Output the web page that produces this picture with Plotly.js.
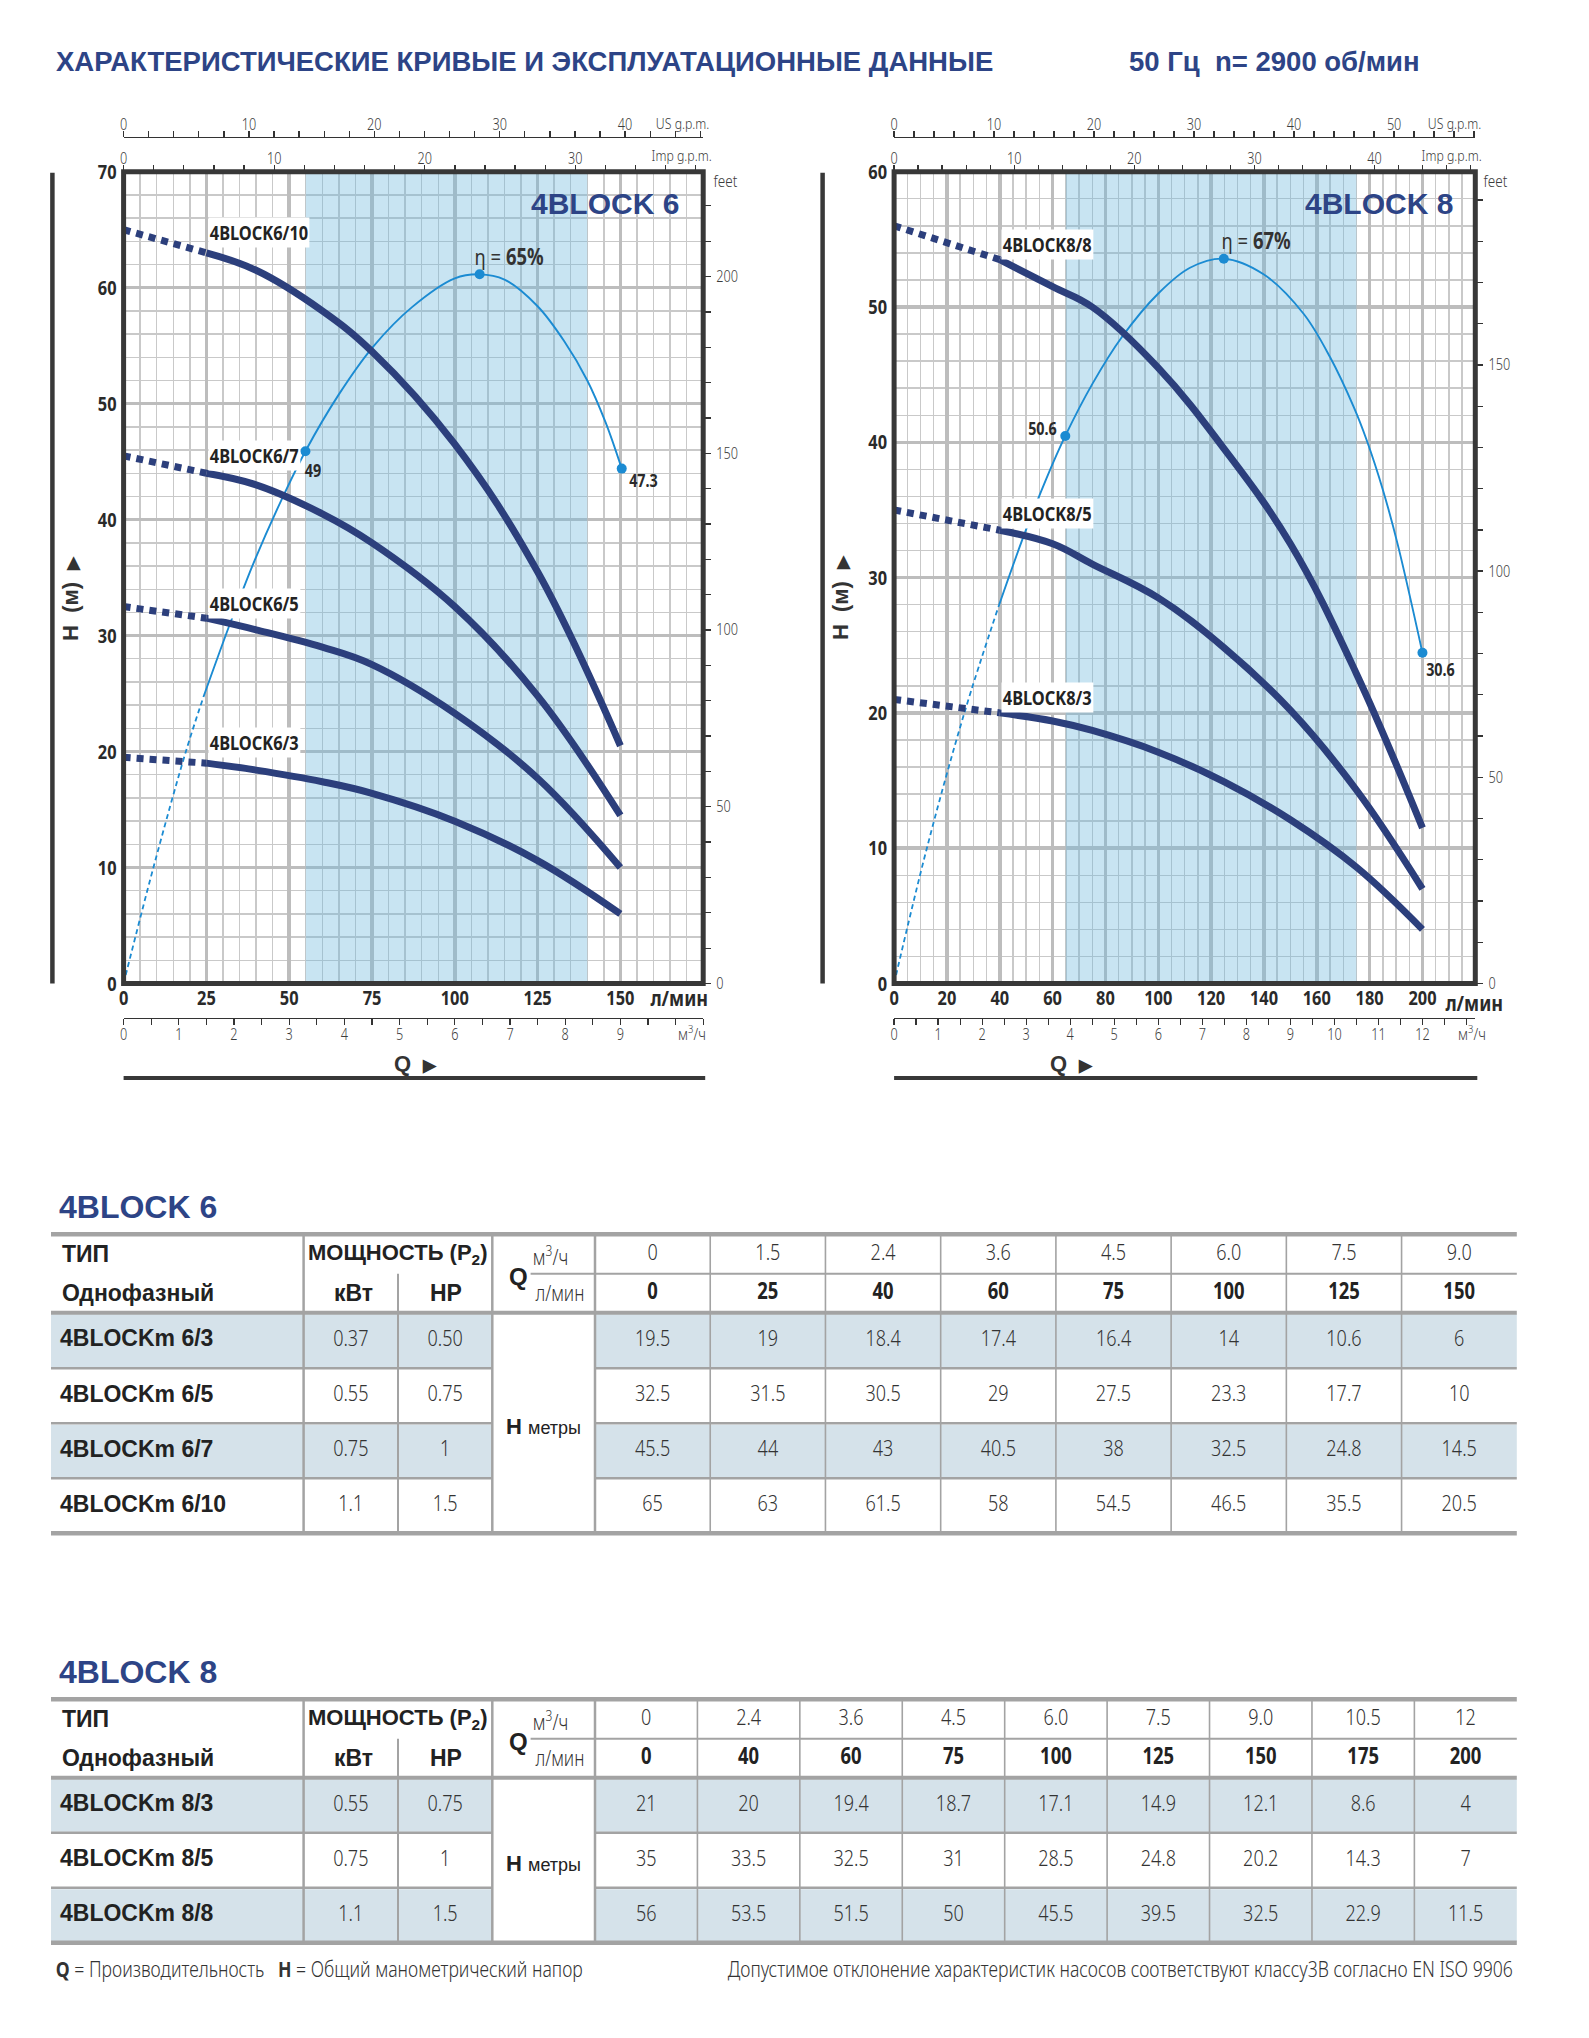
<!DOCTYPE html>
<html><head><meta charset="utf-8">
<script src="https://cdn.plot.ly/plotly-3.0.1.min.js"></script>
<style>
html,body{margin:0;padding:0;background:#fff;}#chart{width:1589px;height:2038px;}
</style>
</head><body><div id="chart"></div>
<script>
// ================= DATA =================
// 4BLOCK 6
const Q6 = [0, 25, 40, 60, 75, 100, 125, 150];
const M3H6 = ['0', '1.5', '2.4', '3.6', '4.5', '6.0', '7.5', '9.0'];
const H6_3 = [19.5, 19, 18.4, 17.4, 16.4, 14, 10.6, 6];
const H6_5 = [32.5, 31.5, 30.5, 29, 27.5, 23.3, 17.7, 10];
const H6_7 = [45.5, 44, 43, 40.5, 38, 32.5, 24.8, 14.5];
const H6_10 = [65, 63, 61.5, 58, 54.5, 46.5, 35.5, 20.5];
const MODELS6 = ['4BLOCKm 6/3', '4BLOCKm 6/5', '4BLOCKm 6/7', '4BLOCKm 6/10'];
const KW6 = ['0.37', '0.55', '0.75', '1.1'];
const HP6 = ['0.50', '0.75', '1', '1.5'];
const LABELS6 = ['4BLOCK6/3', '4BLOCK6/5', '4BLOCK6/7', '4BLOCK6/10'];
// efficiency curve 6 (drawn in head-axis units)
const EFF6_Q = [0, 9, 18.8, 24.1, 32.1, 39.6, 47.5, 54.9, 65, 75.3, 87, 100, 107.5, 115, 125, 133, 140, 145.5, 150.4];
const EFF6_H = [0, 10, 20, 24.7, 31, 36.5, 41.6, 45.9, 50.8, 54.9, 58.3, 60.8, 61.15, 60.7, 58.4, 55.4, 52, 48.4, 44.4];
const EFF6_PT_Q = [54.9, 107.5, 150.4];
const EFF6_PT_H = [45.9, 61.15, 44.4];
const EFF6_PT_TXT = ['<b>49</b>', 'η = <b>65%</b>', '<b>47.3</b>'];

// 4BLOCK 8
const Q8 = [0, 40, 60, 75, 100, 125, 150, 175, 200];
const M3H8 = ['0', '2.4', '3.6', '4.5', '6.0', '7.5', '9.0', '10.5', '12'];
const H8_3 = [21, 20, 19.4, 18.7, 17.1, 14.9, 12.1, 8.6, 4];
const H8_5 = [35, 33.5, 32.5, 31, 28.5, 24.8, 20.2, 14.3, 7];
const H8_8 = [56, 53.5, 51.5, 50, 45.5, 39.5, 32.5, 22.9, 11.5];
const MODELS8 = ['4BLOCKm 8/3', '4BLOCKm 8/5', '4BLOCKm 8/8'];
const KW8 = ['0.55', '0.75', '1.1'];
const HP8 = ['0.75', '1', '1.5'];
const LABELS8 = ['4BLOCK8/3', '4BLOCK8/5', '4BLOCK8/8'];
const EFF8_Q = [0, 12.4, 26.6, 39.6, 49.1, 57.6, 64.8, 75, 86.3, 100, 112, 124.8, 140, 155, 165, 174, 179, 185, 190.7, 200];
const EFF8_H = [0, 10, 20, 27.9, 33.1, 37.3, 40.47, 44.3, 47.8, 51, 52.9, 53.57, 52.4, 49.5, 46.3, 42.6, 40.1, 36.5, 32.4, 24.44];
const EFF8_PT_Q = [64.8, 124.8, 200];
const EFF8_PT_H = [40.47, 53.57, 24.44];
const EFF8_PT_TXT = ['<b>50.6</b>', 'η = <b>67%</b>', '<b>30.6</b>'];

// axis tick labels
const Q_TICKS6 = [0, 25, 50, 75, 100, 125, 150];
const Q_TICKS8 = [0, 20, 40, 60, 80, 100, 120, 140, 160, 180, 200];
const M3_TICKS6 = [0, 1, 2, 3, 4, 5, 6, 7, 8, 9];
const M3_TICKS8 = [0, 1, 2, 3, 4, 5, 6, 7, 8, 9, 10, 11, 12];

// ================= STYLE / LAYOUT =================
const W = 1589, H = 2038;
const px = x => x / W, py = y => 1 - y / H;
const CF = '"Noto Sans", sans-serif';            // drawn horizontally condensed after render
const RF = '"Liberation Sans", Arial, sans-serif';
const CONDENSE = 0.82;
const NAVY = '#2c3f7c', BLUE = '#1b8bd2', FRAME = '#383838', TBLUE = '#2d4486', TXT = '#2a2a2a', LT = '#3c3c3c';
const L_PER_IMP = 4.54609, L_PER_US = 3.78541, FT_PER_M = 3.28084, M3H_PER_LMIN = 0.06;

const traces = [], shapes = [], annotations = [];
const layout = {
  width: W, height: H, margin: {l: 0, r: 0, t: 0, b: 0},
  paper_bgcolor: '#ffffff', plot_bgcolor: 'rgba(0,0,0,0)', showlegend: false
};
const ak = id => (id[0] === 'x' ? 'xaxis' : 'yaxis') + id.slice(1);
const dummy = (xa, ya) => traces.push({x: [null], y: [null], xaxis: xa, yaxis: ya, mode: 'markers',
  marker: {opacity: 0}, hoverinfo: 'skip', showlegend: false});

function chart(c) {
  const dx = [px(c.x0), px(c.x1)], dy = [py(c.y1), py(c.y0)];
  const tickT = {family: CF, size: 15.5, color: LT, weight: 300};
  const tk = {ticks: 'outside', ticklen: 6, tickwidth: 1.3, tickcolor: '#333'};
  layout[ak(c.id.x)] = {
    domain: dx, range: [0, c.qmax], anchor: c.id.y, tickmode: 'array', tickvals: c.qTicks,
    ticks: '', showline: false, zeroline: false, showgrid: true, gridcolor: '#bdbdbd', gridwidth: 3.5,
    minor: {tickmode: 'linear', tick0: 0, dtick: c.qMinor, showgrid: true, gridcolor: '#c9c9c9', gridwidth: 1.4},
    tickfont: {family: CF, size: 20, color: TXT, weight: 700}, ticklabelstandoff: 1, fixedrange: true
  };
  layout[ak(c.id.y)] = {
    domain: dy, range: [0, c.hmax], anchor: c.id.x, dtick: 10, ticks: '', showline: false, zeroline: false,
    showgrid: true, gridcolor: '#bdbdbd', gridwidth: 3.5,
    minor: {dtick: 2, showgrid: true, gridcolor: '#c9c9c9', gridwidth: 1.4},
    tickfont: {family: CF, size: 20, color: TXT, weight: 700}, ticklabelstandoff: 6, fixedrange: true
  };
  layout[ak(c.id.ft)] = Object.assign({}, tk, {
    visible: true, overlaying: c.id.y, side: 'right', anchor: c.id.x, range: [0, c.hmax * FT_PER_M], dtick: 50,
    ticklen: 7, minor: Object.assign({}, tk, {dtick: 10, ticklen: 7}), showgrid: false, zeroline: false,
    showline: false, tickfont: tickT, ticklabelstandoff: 2, fixedrange: true
  });
  layout[ak(c.id.imp)] = Object.assign({}, tk, {
    visible: true, overlaying: c.id.x, side: 'top', anchor: c.id.y, range: [0, c.qmax / L_PER_IMP], dtick: 10,
    minor: Object.assign({}, tk, {dtick: 2}), showgrid: false, zeroline: false, showline: false,
    tickfont: tickT, ticklabelstandoff: -6, fixedrange: true
  });
  layout[ak(c.id.us)] = Object.assign({}, tk, {
    visible: true, overlaying: c.id.x, side: 'top', anchor: 'free', position: py(136.7),
    range: [0, c.qmax / L_PER_US], dtick: 10, showline: true, linecolor: '#333', linewidth: 1.5,
    minor: Object.assign({}, tk, {dtick: 2}), showgrid: false, zeroline: false, tickfont: tickT,
    ticklabelstandoff: -6, fixedrange: true
  });
  layout[ak(c.id.m3)] = Object.assign({}, tk, {
    visible: true, overlaying: c.id.x, side: 'bottom', anchor: 'free', position: py(1017.6),
    range: [0, c.qmax * M3H_PER_LMIN], tickmode: 'array', tickvals: c.m3Ticks, showline: true,
    linecolor: '#333', linewidth: 1.5,
    minor: Object.assign({}, tk, {tickmode: 'linear', tick0: 0, dtick: 0.5}), showgrid: false, zeroline: false,
    tickfont: tickT, ticklabelstandoff: -4, fixedrange: true
  });
  dummy(c.id.imp, c.id.y); dummy(c.id.us, c.id.y); dummy(c.id.m3, c.id.y); dummy(c.id.x, c.id.ft);

  // operating range shading
  shapes.push({type: 'rect', xref: c.id.x, yref: c.id.y, x0: c.shade[0], x1: c.shade[1], y0: 0, y1: c.hmax,
    fillcolor: 'rgba(110,185,222,0.38)', line: {width: 0}, layer: 'between'});
  // frame
  shapes.push({type: 'rect', xref: 'paper', yref: 'paper', x0: dx[0], x1: dx[1], y0: dy[0], y1: dy[1],
    line: {color: FRAME, width: 5}, layer: 'above'});
  // left thick line & bottom thick line
  shapes.push({type: 'line', xref: 'paper', yref: 'paper', x0: px(c.leftX), x1: px(c.leftX), y0: py(c.y1), y1: py(c.y0 + 1),
    line: {color: FRAME, width: 4.5}});
  shapes.push({type: 'line', xref: 'paper', yref: 'paper', x0: dx[0], x1: px(c.x1 + 2), y0: py(1077.9), y1: py(1077.9),
    line: {color: FRAME, width: 4}});

  // efficiency curve
  const e = c.eff;
  traces.push({x: e.q.slice(0, e.dashN), y: e.h.slice(0, e.dashN), xaxis: c.id.x, yaxis: c.id.y, mode: 'lines',
    line: {color: BLUE, width: 1.8, dash: '5px,3.5px', shape: 'spline'}, hoverinfo: 'skip'});
  traces.push({x: e.q.slice(e.dashN - 1), y: e.h.slice(e.dashN - 1), xaxis: c.id.x, yaxis: c.id.y, mode: 'lines',
    line: {color: BLUE, width: 1.9, shape: 'spline', smoothing: 1}, hoverinfo: 'skip'});

  // pump curves
  c.curves.forEach((h, i) => {
    traces.push({x: c.q.slice(0, 2), y: h.slice(0, 2), xaxis: c.id.x, yaxis: c.id.y, mode: 'lines',
      line: {color: NAVY, width: 7, dash: '7px,6px'}, hoverinfo: 'skip'});
    traces.push({x: c.q.slice(1), y: h.slice(1), xaxis: c.id.x, yaxis: c.id.y, mode: 'lines',
      line: {color: NAVY, width: 7, shape: 'spline', smoothing: 1.1}, hoverinfo: 'skip'});
    annotations.push({xref: c.id.x, yref: c.id.y, x: c.labelQ, y: c.labelH[i], xanchor: 'left', yanchor: 'middle',
      text: c.labels[i], showarrow: false, bgcolor: '#ffffff', borderpad: 1,
      font: {family: CF, size: 20, color: '#232323', weight: 700}});
  });

  // efficiency markers + labels
  traces.push({x: e.pq, y: e.ph, xaxis: c.id.x, yaxis: c.id.y, mode: 'markers',
    marker: {color: BLUE, size: 10}, hoverinfo: 'skip', cliponaxis: false});
  e.pq.forEach((q, i) => {
    const big = i === 1;
    annotations.push({xref: c.id.x, yref: c.id.y, x: q, y: e.ph[i], xshift: e.shift[i][0], yshift: e.shift[i][1],
      text: e.ptxt[i], showarrow: false, xanchor: 'center', yanchor: 'middle',
      font: big ? {family: CF, size: 22.5, color: '#333'} : {family: CF, size: 17.5, color: '#2a2a2a'}});
  });

  // texts around chart
  const T = (x, y, text, font, extra) => annotations.push(Object.assign({xref: 'paper', yref: 'paper',
    x: px(x), y: py(y), text, showarrow: false, xanchor: 'center', yanchor: 'middle', font}, extra || {}));
  T(c.brandX, 204, c.brand, {family: RF, size: 30, color: TBLUE, weight: 700}, {xanchor: 'right'});
  T(c.feet[0], c.feet[1], 'feet', {family: CF, size: 16.5, color: LT, weight: 300});
  T(c.imp[0], c.imp[1], 'Imp g.p.m.', {family: CF, size: 15, color: LT, weight: 300});
  T(c.us[0], c.us[1], 'US g.p.m.', {family: CF, size: 15, color: LT, weight: 300});
  T(c.lmin[0], c.lmin[1], 'л/мин', {family: CF, size: 22, color: TXT, weight: 700});
  T(c.m3[0], c.m3[1], 'м<sup>3</sup>/ч', {family: CF, size: 16.5, color: LT, weight: 300});
  T(c.leftX + 17.5, 598, 'H\u00A0\u00A0(м)\u00A0\u00A0<span style="font-size:17px">▶</span>',
    {family: RF, size: 22, color: '#333', weight: 700}, {textangle: -90});
  T(c.qLabelX, 1063.8, 'Q\u00A0\u00A0<span style="font-size:17px">▶</span>', {family: RF, size: 22, color: '#333', weight: 700});
}

chart({
  id: {x: 'x', imp: 'x2', us: 'x3', m3: 'x4', y: 'y', ft: 'y2'},
  x0: 123.6, x1: 703.2, y0: 171.7, y1: 983.5, qmax: 175, hmax: 70, qTicks: Q_TICKS6, qMinor: 5, m3Ticks: M3_TICKS6,
  shade: [55, 140], q: Q6, curves: [H6_3, H6_5, H6_7, H6_10], labels: LABELS6, labelQ: 25.6, labelH: [20.8, 32.8, 45.5, 64.8],
  eff: {q: EFF6_Q, h: EFF6_H, dashN: 4, pq: EFF6_PT_Q, ph: EFF6_PT_H, ptxt: EFF6_PT_TXT, shift: [[8, -19], [29.5, 17.6], [21.5, -11]]},
  leftX: 52.4, qLabelX: 416, brand: '4BLOCK 6', brandX: 681,
  feet: [725.5, 180], imp: [681, 155], us: [682.5, 123], lmin: [679, 997], m3: [692, 1033]
});
chart({
  id: {x: 'x5', imp: 'x6', us: 'x7', m3: 'x8', y: 'y3', ft: 'y4'},
  x0: 894.1, x1: 1475.3, y0: 171.7, y1: 983.5, qmax: 220, hmax: 60, qTicks: Q_TICKS8, qMinor: 5, m3Ticks: M3_TICKS8,
  shade: [65, 175], q: Q8, curves: [H8_3, H8_5, H8_8], labels: LABELS8, labelQ: 40.6, labelH: [21.15, 34.75, 54.6],
  eff: {q: EFF8_Q, h: EFF8_H, dashN: 4, pq: EFF8_PT_Q, ph: EFF8_PT_H, ptxt: EFF8_PT_TXT, shift: [[-23.2, 7.7], [31.7, 18.7], [18.2, -16.5]]},
  leftX: 822.6, qLabelX: 1071.5, brand: '4BLOCK 8', brandX: 1455,
  feet: [1495, 180], imp: [1451.7, 155], us: [1454, 123], lmin: [1474, 1001.5], m3: [1471.6, 1033]
});

// page title
annotations.push({xref: 'paper', yref: 'paper', x: px(53.6), y: py(61.7), xanchor: 'left', yanchor: 'middle', showarrow: false,
  text: 'ХАРАКТЕРИСТИЧЕСКИЕ КРИВЫЕ И ЭКСПЛУАТАЦИОННЫЕ ДАННЫЕ', font: {family: RF, size: 27.5, color: TBLUE, weight: 700}});
annotations.push({xref: 'paper', yref: 'paper', x: px(1127), y: py(61.7), xanchor: 'left', yanchor: 'middle', showarrow: false,
  text: '50 Гц\u00A0\u00A0n= 2900 об/мин', font: {family: RF, size: 27.5, color: TBLUE, weight: 700}});

// ================= TABLES (page-pixel axis) =================
const TX = 'x9', TY = 'y5';
layout.xaxis9 = {domain: [0, 1], range: [0, W], visible: false, fixedrange: true, anchor: 'y5'};
layout.yaxis5 = {domain: [0, py(1170)], range: [H, 1170], visible: false, fixedrange: true, anchor: 'x9'};
const GRID = '#a3a3a3', FILL = '#d5e2ea';

function table(t, d) {
  const L = 51, R = 1516.8, C1 = 303.6, C2 = 398, C3 = 492.3, C4 = 595;
  const n = d.q.length, dw = (R - C4) / n;
  const xc = [...Array(n).keys()].map(i => C4 + dw * (i + 0.5));
  const rowEdges = [t.hdr].concat(t.rows);
  const rc = t.rows.map((b, i) => (rowEdges[i] + b) / 2);
  const hl = (x0, x1, y, w) => shapes.push({type: 'line', xref: TX, yref: TY, x0, x1, y0: y, y1: y, line: {color: GRID, width: w}});
  const vl = (x, y0, y1, w) => shapes.push({type: 'line', xref: TX, yref: TY, x0: x, x1: x, y0, y1, line: {color: GRID, width: w}});
  rc.forEach((_, i) => {
    if (i % 2 === 0) {
      [[L, C3], [C4, R]].forEach(([a, b]) => shapes.push({type: 'rect', xref: TX, yref: TY, x0: a, x1: b,
        y0: rowEdges[i] + 1.5, y1: rowEdges[i + 1] - 1, fillcolor: FILL, line: {width: 0}, layer: 'below'}));
    }
  });
  const bot = t.rows[t.rows.length - 1];
  hl(L, R, t.top, 4.5); hl(L, R, t.hdr, 4); hl(L, R, bot, 4.5);
  hl(530.6, R, t.mid, 2);
  t.rows.slice(0, -1).forEach(y => { hl(L, C3, y, 2.5); hl(C4, R, y, 2.5); });
  [C1, C3, C4].forEach(x => vl(x, t.top, bot, 2.5));
  vl(C2, t.mid, bot, 2);
  for (let i = 1; i < n; i++) vl(C4 + dw * i, t.top, bot, 1.6);

  const hy1 = (t.top + t.mid) / 2, hy2 = (t.mid + t.hdr) / 2;
  const txt = (x, y, text, font, pos) => traces.push({x, y, text, mode: 'text', textposition: pos || 'middle center',
    xaxis: TX, yaxis: TY, textfont: font, hoverinfo: 'skip', cliponaxis: false});
  const light = {family: CF, size: 22, color: '#333', weight: 300};
  txt(xc, xc.map(() => hy1 + 1), d.m3, light);
  txt(xc, xc.map(() => hy2), d.q.map(String), {family: CF, size: 22.5, color: '#222', weight: 700});
  txt(rc.map(() => 60), rc, d.models, {family: RF, size: 23, color: '#222', weight: 700}, 'middle right');
  txt(rc.map(() => (C1 + C2) / 2), rc, d.kw, light);
  txt(rc.map(() => (C2 + C3) / 2), rc, d.hp, light);
  d.heads.forEach((row, i) => txt(xc, xc.map(() => rc[i]), row.map(String), light));

  const A = (x, y, text, font, xa) => annotations.push({xref: TX, yref: TY, x, y, text, showarrow: false,
    xanchor: xa || 'center', yanchor: 'middle', font});
  const hb = {family: RF, size: 23, color: '#222', weight: 700};
  A(57, t.titleY, t.title, {family: RF, size: 32, color: TBLUE, weight: 700}, 'left');
  A(60, hy1, 'ТИП', hb, 'left');
  A(60, hy2, 'Однофазный', hb, 'left');
  A((C1 + C3) / 2, hy1, 'МОЩНОСТЬ (P<sub>2</sub>)', {family: RF, size: 22, color: '#222', weight: 700});
  A(353, hy2, 'кВт', hb);
  A(446, hy2, 'HP', hb);
  A(518, t.mid + 2.5, 'Q', {family: RF, size: 24, color: '#222', weight: 700});
  A(550, hy1 + 1, 'м<sup>3</sup>/ч', {family: CF, size: 21, color: '#333', weight: 300});
  A(560, hy2, 'л/мин', {family: CF, size: 21, color: '#333', weight: 300});
  A((C3 + C4) / 2, (t.hdr + bot) / 2 + 3,
    '<b>H</b> <span style="font-weight:300;font-size:18px">метры</span>',
    {family: RF, size: 22, color: '#222'});
}

table({title: '4BLOCK 6', titleY: 1206.7, top: 1234.3, mid: 1273.7, hdr: 1312.7, rows: [1368.3, 1423.3, 1478.3, 1533.3]},
  {q: Q6, m3: M3H6, models: MODELS6, kw: KW6, hp: HP6, heads: [H6_3, H6_5, H6_7, H6_10]});
table({title: '4BLOCK 8', titleY: 1671.7, top: 1699.3, mid: 1738.7, hdr: 1777.7, rows: [1832.7, 1887.7, 1942.7]},
  {q: Q8, m3: M3H8, models: MODELS8, kw: KW8, hp: HP8, heads: [H8_3, H8_5, H8_8]});

// footer
annotations.push({xref: TX, yref: TY, x: 53.6, y: 1968.3, xanchor: 'left', yanchor: 'middle', showarrow: false,
  text: '<b>Q</b> = Производительность\u00A0\u00A0\u00A0<b>H</b> = Общий манометрический напор',
  font: {family: CF, size: 21.5, color: '#333', weight: 300}});
annotations.push({xref: TX, yref: TY, x: 1515.3, y: 1968.3, xanchor: 'right', yanchor: 'middle', showarrow: false,
  text: 'Допустимое отклонение характеристик насосов соответствуют классу3В согласно EN ISO 9906',
  font: {family: CF, size: 21.5, color: '#333', weight: 300}});

layout.shapes = shapes;
layout.annotations = annotations;

// narrow the "condensed" texts horizontally around their anchor (no condensed face is installed)
function condense(gd, s) {
  const isCF = el => /Noto Sans/.test(el.getAttribute('style') || '');
  const add = (el, ax) => el.setAttribute('transform',
    (el.getAttribute('transform') || '') + ` translate(${ax},0) scale(${s},1) translate(${-ax},0)`);
  gd.querySelectorAll('g.annotation').forEach(g => {
    const t = g.querySelector('text.annotation-text');
    if (!t || !isCF(t)) return;
    const ann = gd._fullLayout.annotations[+g.getAttribute('data-index')] || {};
    const grp = t.parentNode, bb = grp.getBBox();
    const ax = ann.xanchor === 'left' ? bb.x : ann.xanchor === 'right' ? bb.x + bb.width : bb.x + bb.width / 2;
    add(grp, ax);
  });
  gd.querySelectorAll('text').forEach(t => {
    if (t.classList.contains('annotation-text') || !isCF(t)) return;
    const bb = t.getBBox(), a = t.getAttribute('text-anchor') || 'start';
    const ax = a === 'middle' ? bb.x + bb.width / 2 : a === 'end' ? bb.x + bb.width : bb.x;
    add(t, ax);
  });
}
Plotly.newPlot('chart', traces, layout, {staticPlot: true}).then(gd => condense(gd, CONDENSE));
</script></body></html>
